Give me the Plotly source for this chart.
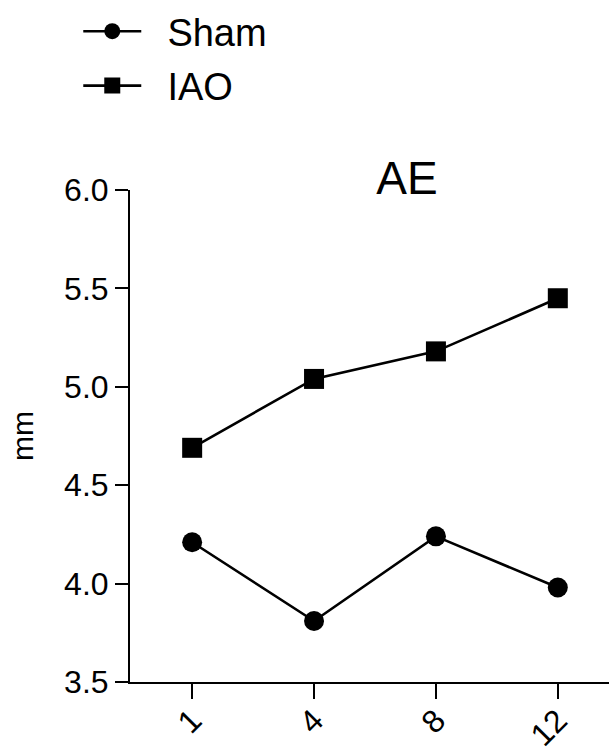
import plotly.graph_objects as go

weeks = ["1", "4", "8", "12"]
sham = [4.21, 3.81, 4.24, 3.98]
iao = [4.69, 5.04, 5.18, 5.45]

FONT = "Liberation Sans, Arial, Helvetica, sans-serif"
NB = "\u00a0\u00a0"

fig = go.Figure()
fig.add_trace(go.Scatter(x=weeks, y=sham, name=NB + "Sham", mode="lines+markers",
                         line=dict(color="black", width=2.6),
                         marker=dict(symbol="circle", size=20, color="black"),
                         legendgroup="a"))
fig.add_trace(go.Scatter(x=weeks, y=iao, name=NB + "IAO", mode="lines+markers",
                         line=dict(color="black", width=2.6),
                         marker=dict(symbol="square", size=20, color="black"),
                         legendgroup="b"))

fig.update_layout(
    width=609, height=751,
    margin=dict(l=130, r=0, t=190, b=69),
    paper_bgcolor="white", plot_bgcolor="white",
    font=dict(family=FONT, color="black"),
    title=dict(text="AE", font=dict(size=46, family=FONT, color="black"),
               x=(407 - 130) / 479, xref="paper", xanchor="center",
               y=1 - 178 / 751, yref="container", yanchor="middle"),
    showlegend=True,
    legend=dict(x=-0.108, xanchor="left", y=1, yref="container", yanchor="top",
                font=dict(size=38, family=FONT, color="black"),
                itemwidth=58, traceorder="grouped", tracegroupgap=2,
                bgcolor="rgba(0,0,0,0)"),
    xaxis=dict(type="category", range=[-0.51, 3.42], showgrid=False, zeroline=False,
               automargin=False,
               showline=True, linecolor="black", linewidth=2,
               ticks="outside", ticklen=15, tickwidth=2, tickcolor="black",
               tickangle=-45, ticklabelstandoff=-10,
               tickfont=dict(size=32, family=FONT, color="black")),
    yaxis=dict(range=[3.5, 6.0], tickvals=[3.5, 4.0, 4.5, 5.0, 5.5, 6.0],
               ticktext=["3.5", "4.0", "4.5", "5.0", "5.5", "6.0"],
               showgrid=False, zeroline=False, automargin=False,
               showline=True, linecolor="black", linewidth=2,
               ticks="outside", ticklen=13, tickwidth=2, tickcolor="black",
               tickfont=dict(size=32, family=FONT, color="black"),
               title=dict(text="mm", font=dict(size=30, family=FONT, color="black"),
                          standoff=22)),
)

fig.write_html("out.html", config={"displayModeBar": False},
               post_script="document.body.style.margin='0';")
